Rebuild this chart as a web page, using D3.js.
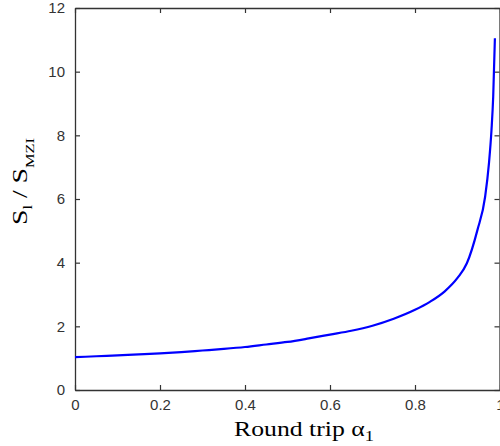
<!DOCTYPE html>
<html><head><meta charset="utf-8">
<script src="https://cdn.jsdelivr.net/npm/d3@7"></script>
<style>body{margin:0;background:#fff}svg{display:block}</style>
</head><body>
<svg id="c" width="500" height="446"></svg>
<script>
const alpha = [0, 0.05, 0.1, 0.15, 0.2, 0.25, 0.3, 0.35, 0.4, 0.45, 0.5, 0.55, 0.6, 0.65, 0.7, 0.75, 0.8, 0.835, 0.87, 0.9, 0.922, 0.947, 0.965, 0.974, 0.98, 0.984, 0.988];
const ratio = [1.03, 1.06, 1.09, 1.12, 1.15, 1.19, 1.24, 1.29, 1.35, 1.43, 1.51, 1.62, 1.74, 1.86, 2.02, 2.24, 2.52, 2.77, 3.1, 3.52, 3.98, 5.03, 6.07, 7.12, 8.17, 9.21, 11.05];
const xTicks = [0, 0.2, 0.4, 0.6, 0.8, 1];
const xTickLabels = ["0", "0.2", "0.4", "0.6", "0.8", "1"];
const yTicks = [0, 2, 4, 6, 8, 10, 12];
const yTickLabels = ["0", "2", "4", "6", "8", "10", "12"];

const svg = d3.select("#c");
const L = 75, R = 500, T = 8, B = 390;
const x = d3.scaleLinear().domain([0, 1]).range([L, R]);
const y = d3.scaleLinear().domain([0, 12]).range([B, T]);
const axCol = "#333";
const tickFont = "15px 'Liberation Sans', Arial, sans-serif";

const gx = svg.append("g").attr("transform", `translate(0,${B})`)
  .call(d3.axisBottom(x).tickValues(xTicks).tickFormat((d, i) => xTickLabels[i]).tickSizeInner(-5).tickSizeOuter(0).tickPadding(9));
const gxt = svg.append("g").attr("transform", `translate(0,${T})`)
  .call(d3.axisTop(x).tickValues(xTicks).tickFormat("").tickSizeInner(-5).tickSizeOuter(0));
const gy = svg.append("g").attr("transform", `translate(${L},0)`)
  .call(d3.axisLeft(y).tickValues(yTicks).tickFormat((d, i) => yTickLabels[i]).tickSizeInner(-5).tickSizeOuter(0).tickPadding(10));
const gyr = svg.append("g").attr("transform", `translate(${R - 0.5},0)`)
  .call(d3.axisRight(y).tickValues(yTicks).tickFormat("").tickSizeInner(-5).tickSizeOuter(0));

[gx, gxt, gy, gyr].forEach(g => {
  g.selectAll(".domain").attr("stroke", axCol).attr("stroke-width", 1.3);
  g.selectAll(".tick line").attr("stroke", axCol).attr("stroke-width", 1.2);
  g.selectAll("text").attr("fill", "#333").style("font", tickFont);
});

const line = d3.line().x((d, i) => x(alpha[i])).y(d => y(d)).curve(d3.curveMonotoneX);
svg.append("path").datum(ratio).attr("d", line)
  .attr("fill", "none").attr("stroke", "#0000ff").attr("stroke-width", 2.2)
  .attr("stroke-linejoin", "round");

const serif = "'Liberation Serif', 'Times New Roman', serif";
const xl = svg.append("g").attr("transform", "translate(234,436)");
const xt = xl.append("text").attr("fill", "#000").style("font-family", serif).style("font-size", "21px");
xt.append("tspan").text("Round trip α");
xt.append("tspan").attr("dy", 5).style("font-size", "15px").text("1");
const xw = xt.node().getComputedTextLength();
xt.attr("transform", `scale(${140 / xw},1)`);

const yl = svg.append("g").attr("transform", "translate(27,225) rotate(-90)");
const yt = yl.append("text").attr("fill", "#000").style("font-family", serif).style("font-size", "22px");
yt.append("tspan").text("S");
yt.append("tspan").attr("dy", 5).style("font-size", "13px").text("l");
yt.append("tspan").attr("dy", -5).text(" / S");
yt.append("tspan").attr("dy", 7).style("font-size", "13px").text("MZI");
const yw = yt.node().getComputedTextLength();
yt.attr("transform", `scale(${87 / yw},1)`);
</script>
</body></html>
